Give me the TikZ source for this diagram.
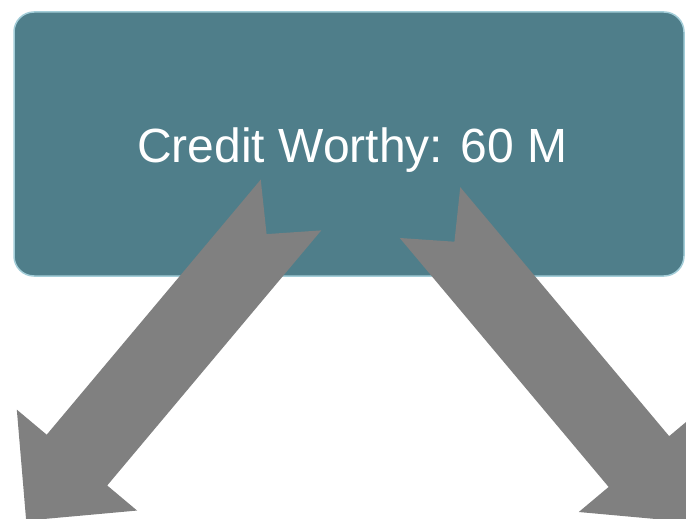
\documentclass[tikz,border=0pt]{standalone}
\usepackage{fontspec}
\setmainfont{Liberation Sans}
\definecolor{boxfill}{HTML}{4F7E8A}
\definecolor{boxedge}{HTML}{A3CDD8}
\definecolor{arrowgray}{HTML}{808080}
\tikzset{
  teabox/.style={fill=boxfill, draw=boxedge, line width=1.5pt, rounded corners=20pt},
  blockarrow/.style={fill=arrowgray, draw=none},
}
\newcommand{\notcharrow}[1]{%
  (0,39.5) -- ({#1-79},39.5) -- ({#1-79},78.5) -- (#1,0) -- ({#1-79},-78.5) -- ({#1-79},-39.5) -- (0,-39.5) -- (38,0) -- cycle}
\begin{document}
\begin{tikzpicture}[x=1pt,y=1pt]
\useasboundingbox (0,0) rectangle (686,-519);
\fill[white] (0,0) rectangle (686,-519);
\draw[teabox] (14,-12) rectangle (684,-276);
\node[inner sep=0pt, anchor=base, text=white, font=\fontsize{48}{56}\selectfont] (label) at (352.5,-162) {Credit Worthy: 60 M};
\coordinate (ltail) at (291,-205);
\coordinate (rtail) at (430,-212.6);
\begin{scope}[shift={(ltail)}, rotate=230]
  \fill[blockarrow] \notcharrow{412};
  \coordinate (ltip) at (412,0);
\end{scope}
\begin{scope}[shift={(rtail)}, rotate=-50]
  \fill[blockarrow] \notcharrow{404};
  \coordinate (rtip) at (404,0);
\end{scope}
\end{tikzpicture}
\end{document}
